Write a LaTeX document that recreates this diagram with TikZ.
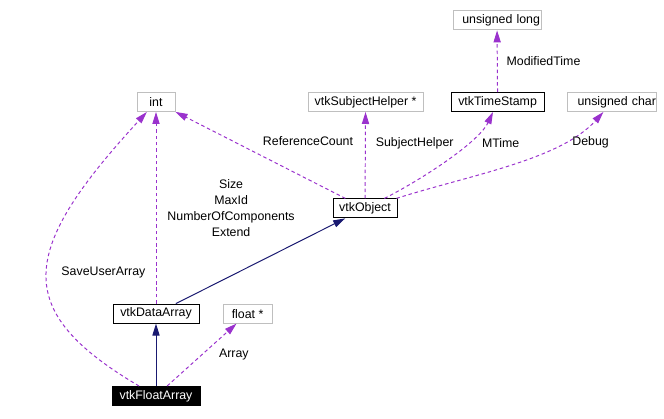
\documentclass[tikz,border=0pt]{standalone}
\usepackage{fontspec}
\setmainfont{Liberation Sans}
\usepackage{tikz}
\usetikzlibrary{positioning,arrows.meta}
\usepackage{xcolor}
\definecolor{depcol}{HTML}{9A32CD}
\definecolor{inhcol}{HTML}{191970}
\definecolor{extcol}{HTML}{BFBFBF}

\begin{document}
\begin{tikzpicture}[every node/.style={font=\fontsize{8.8}{11.4}\selectfont}]
\useasboundingbox (0,0) rectangle (16.6,-10.45);
\tikzstyle{cls}=[draw, rectangle, line width=0.7pt, minimum height=0.475cm, inner sep=0.025cm]
\tikzstyle{ext}=[cls, draw=extcol]
\tikzstyle{lbl}=[inner sep=0pt, align=center]
\tikzstyle{inh}=[draw=inhcol, line width=0.7pt, -{Triangle[length=0.3cm, width=0.18cm]}]
\tikzstyle{dep}=[draw=depcol, line width=0.7pt, dash pattern=on 2.5pt off 2pt, -{Triangle[length=0.3cm, width=0.18cm]}]
\node[ext, minimum width=0.95cm] (int) at (3.9,-2.55) {int};
\node[ext, minimum width=2.875cm] (vsh) at (9.14,-2.55) {vtkSubjectHelper *};
\node[cls, minimum width=2.325cm] (vts) at (12.44,-2.55) {vtkTimeStamp};
\node[ext, text width=2.175cm, align=right] (uch) at (15.31,-2.55) {unsigned char};
\node[ext, text width=2.15cm, align=right] (ulg) at (12.425,-0.51) {unsigned long};
\node[cls, minimum width=1.6cm] (obj) at (9.125,-5.21) {vtkObject};
\node[cls, minimum width=2.15cm] (vda) at (3.9,-7.84) {vtkDataArray};
\node[ext, minimum width=1.225cm] (flt) at (6.19,-7.84) {float *};
\node[cls, fill=black, text=white, minimum width=2.2cm] (vfa) at (3.9,-9.9) {vtkFloatArray};
\draw[inh] (vfa) -- (vda);
\draw[inh] (vda) -- (obj);
\draw[dep] (vda) -- node[lbl, right=0.275cm]{Size\\MaxId\\NumberOfComponents\\Extend} (int);
\draw[dep] (vfa) .. controls (0.25,-7.75) and (0.5,-6.25) .. node[lbl, pos=0.5, right=0.35cm]{SaveUserArray} (int);
\draw[dep] (obj) -- node[lbl, pos=0.22, above=0.83cm]{ReferenceCount} (int);
\draw[dep] (obj) -- node[lbl, pos=0.64, right=0.25cm]{SubjectHelper} (vsh);
\draw[dep] (obj) .. controls (10.75,-4.375) and (12,-3.5) .. node[lbl, pos=0.65, right=0.35cm]{MTime} (vts);
\draw[dep] (obj) .. controls (11.75,-4.375) and (14,-4) .. node[lbl, pos=0.75, right=0.22cm]{Debug} (uch);
\draw[dep] (vts) -- node[lbl, right=0.22cm]{ModifiedTime} (ulg);
\draw[dep] (vfa) -- node[lbl, right=0.42cm]{Array} (flt);
\end{tikzpicture}
\end{document}
